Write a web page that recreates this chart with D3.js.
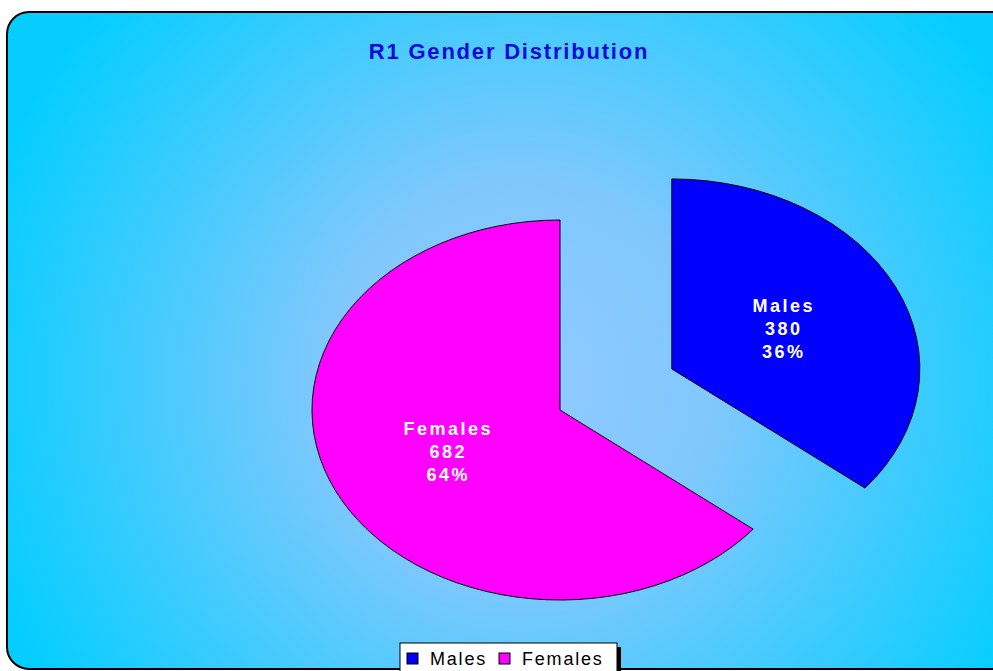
<!DOCTYPE html>
<html>
<head>
<meta charset="utf-8">
<script src="https://cdn.jsdelivr.net/npm/d3@7"></script>
<style>
  body { margin: 0; background: #fff; }
  svg { display: block; font-family: "Liberation Sans", Arial, sans-serif; }
</style>
</head>
<body>
<div class="visHolder"></div>
<script>
var width = 993
var height = 671

// data
var categories = ["Males", "Females"]
var values = [380, 682]
var percents = ["36%", "64%"]
var colors = ["#0000ff", "#ff00ff"]
var title = "R1 Gender Distribution"

var cx = 560, cy = 410, rx = 248, ry = 190
var explode = [0.5, 0]

var svg = d3.select(".visHolder").append("svg")
    .attr("width", width)
    .attr("height", height)

var defs = svg.append("defs")
var grad = defs.append("radialGradient")
    .attr("id", "bg")
    .attr("gradientUnits", "userSpaceOnUse")
    .attr("cx", 520).attr("cy", 380).attr("r", 560)
grad.append("stop").attr("offset", "0%").attr("stop-color", "#90caff")
grad.append("stop").attr("offset", "35%").attr("stop-color", "#80c8fc")
grad.append("stop").attr("offset", "100%").attr("stop-color", "#05ceff")

svg.append("rect")
    .attr("x", 7).attr("y", 12)
    .attr("width", 1010).attr("height", 657)
    .attr("rx", 22).attr("ry", 22)
    .style("fill", "url(#bg)")
    .style("stroke", "#000")
    .style("stroke-width", 2)

svg.append("text")
    .attr("x", 509).attr("y", 59)
    .attr("text-anchor", "middle")
    .style("font-size", "22px")
    .style("font-weight", "bold")
    .style("letter-spacing", "1.8px")
    .style("fill", "#0a0ad8")
    .text(title)

var pie = d3.pie().sort(null)
var arcs = pie(values)
var arc = d3.arc().innerRadius(0).outerRadius(1)

var slices = svg.selectAll("g.slice")
    .data(arcs)
    .enter()
    .append("g")
    .attr("class", "slice")
    .attr("transform", function(d, i) {
        var mid = (d.startAngle + d.endAngle) / 2
        var ox = Math.sin(mid) * explode[i] * rx
        var oy = -Math.cos(mid) * explode[i] * ry
        return "translate(" + (cx + ox) + "," + (cy + oy) + ")"
    })

slices.append("path")
    .attr("d", arc)
    .attr("transform", "scale(" + rx + "," + ry + ")")
    .attr("vector-effect", "non-scaling-stroke")
    .style("fill", (d, i) => colors[i])
    .style("stroke", "#000")
    .style("stroke-width", 1)

var labels = slices.append("text")
    .attr("transform", function(d) {
        var mid = (d.startAngle + d.endAngle) / 2
        return "translate(" + (Math.sin(mid) * 0.5 * rx) + "," + (-Math.cos(mid) * 0.5 * ry) + ")"
    })
    .attr("text-anchor", "middle")
    .style("font-size", "18px")
    .style("font-weight", "bold")
    .style("letter-spacing", "2.5px")
    .style("fill", "#fff")

labels.append("tspan").attr("x", 0).attr("y", -16).text((d, i) => categories[i])
labels.append("tspan").attr("x", 0).attr("y", 7).text((d, i) => values[i])
labels.append("tspan").attr("x", 0).attr("y", 30).text((d, i) => percents[i])

// legend
var lg = svg.append("g").attr("transform", "translate(400,643)")
lg.append("rect")
    .attr("x", 4).attr("y", 4).attr("width", 217).attr("height", 30)
    .style("fill", "#000")
lg.append("rect")
    .attr("x", 0).attr("y", 0).attr("width", 217).attr("height", 30)
    .style("fill", "#fff")
    .style("stroke", "#000")
    .style("stroke-width", 1)

var legendX = [7, 99]
var items = lg.selectAll("g.item")
    .data(categories)
    .enter()
    .append("g")
    .attr("class", "item")
    .attr("transform", (d, i) => "translate(" + legendX[i] + ",0)")
items.append("rect")
    .attr("x", 0).attr("y", 10).attr("width", 11).attr("height", 11)
    .style("fill", (d, i) => colors[i])
    .style("stroke", "#000")
    .style("stroke-width", 1)
items.append("text")
    .attr("x", 23).attr("y", 22)
    .style("font-size", "18px")
    .style("letter-spacing", "1.8px")
    .style("fill", "#000")
    .text(d => d)
</script>
</body>
</html>
